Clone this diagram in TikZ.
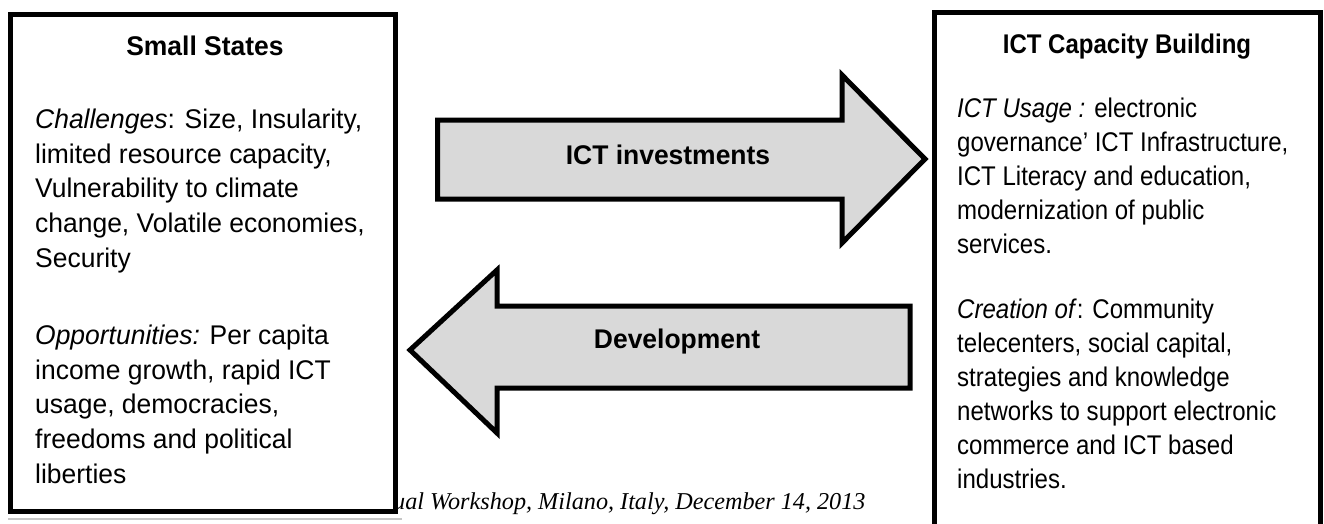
\documentclass[tikz,border=0pt]{standalone}
\usepackage{fontspec}
\setmainfont{Liberation Sans}[FakeStretch=0.98]
\newfontfamily\narrowfont{Liberation Sans}[FakeStretch=0.89]
\newfontfamily\footfont{Liberation Serif}
\definecolor{arrowgray}{RGB}{217,217,217}
\tikzset{
  frame/.style={line width=5pt},
  blockarrow/.style={line width=5pt,fill=arrowgray,line join=miter},
  bodytext/.style={anchor=base west,inner sep=0pt,align=left,font=\fontsize{27}{34.6}\selectfont},
  titletext/.style={anchor=base,inner sep=0pt,font=\fontsize{27}{34.6}\selectfont\bfseries},
  rightbody/.style={bodytext,font=\fontsize{27}{34}\selectfont\narrowfont},
  righttitle/.style={titletext,font=\fontsize{27}{34}\selectfont\narrowfont\bfseries}
}

\begin{document}
\begin{tikzpicture}[x=1pt,y=-1pt]
\useasboundingbox (0,0) rectangle (1324,523);

\node[anchor=base west,inner sep=0pt,font=\fontsize{24.2}{28}\selectfont\footfont\itshape] (footer) at (393,509) {ual Workshop, Milano, Italy, December 14, 2013};

% small states box
\draw[gray!45,line width=1.5pt] (8,519) -- (402,519);
\draw[frame,fill=white] (10.5,14.5) rectangle (395,511);
\node[titletext] (states) at (205,55) {Small States};
\node[bodytext] (challenges) at (35,267) {\textit{Challenges}: Size, Insularity,\\
limited resource capacity,\\
Vulnerability to climate\\
change, Volatile economies,\\
Security};
\node[bodytext] (opportunities) at (35,483) {\textit{Opportunities:} Per capita\\
income growth, rapid ICT\\
usage, democracies,\\
freedoms and political\\
liberties};

% capacity building box
\draw[frame] (934.5,530) -- (934.5,12) -- (1320,12) -- (1320,530);
\node[righttitle] (capacity) at (1127,53) {ICT Capacity Building};
\node[rightbody] (usage) at (957,253) {\textit{ICT Usage :} electronic\\
governance’ ICT Infrastructure,\\
ICT Literacy and education,\\
modernization of public\\
services.};
\node[rightbody] (creation) at (957,488) {\textit{Creation of}: Community\\
telecenters, social capital,\\
strategies and knowledge\\
networks to support electronic\\
commerce and ICT based\\
industries.};

% block arrows
\draw[blockarrow] (437.5,120) -- (842,120) -- (842,75) -- (925,159) -- (842,243) -- (842,199) -- (437.5,199) -- cycle;
\node[titletext] (investments) at (668,164) {ICT investments};

\draw[blockarrow] (910,306) -- (497,306) -- (497,270) -- (410,350) -- (497,433) -- (497,388) -- (910,388) -- cycle;
\node[titletext] (development) at (677,348) {Development};
\end{tikzpicture}
\end{document}
